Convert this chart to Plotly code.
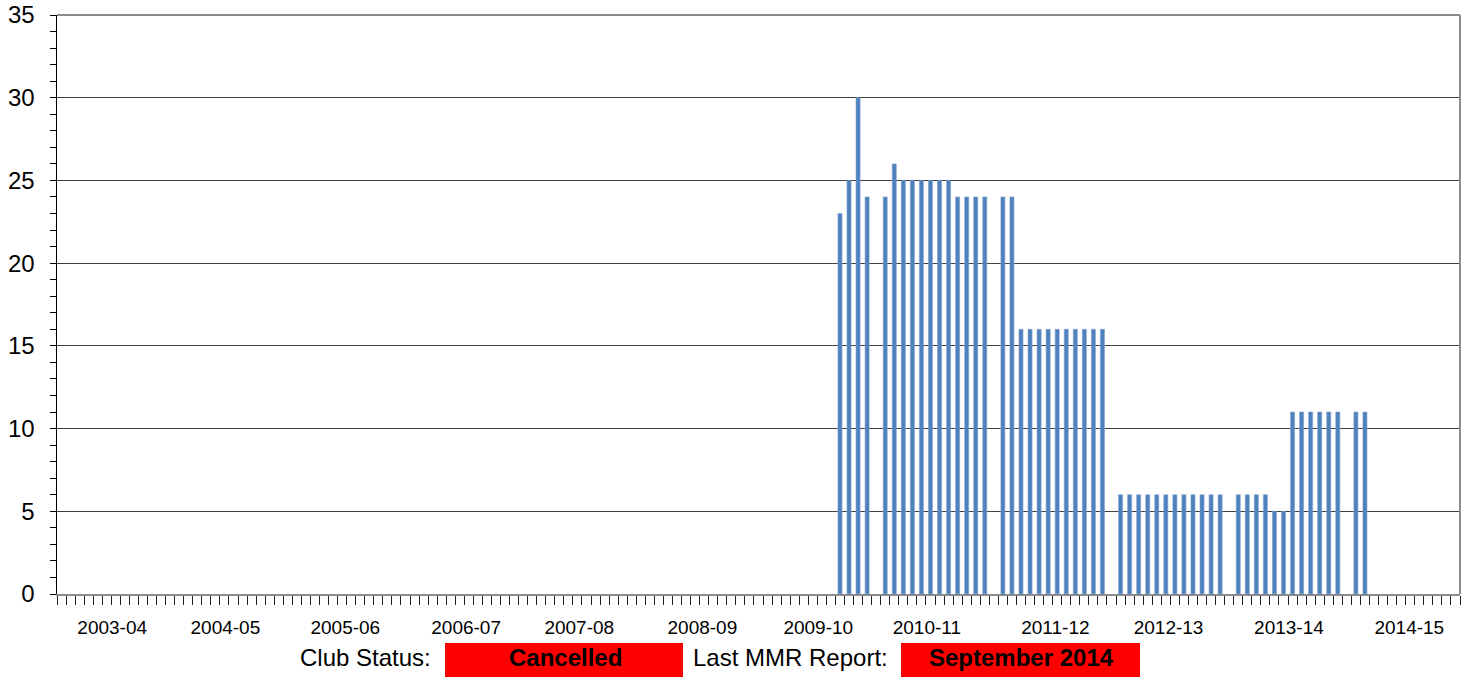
import plotly.graph_objects as go

# ---- data ----
month_index = list(range(155))
members = ([None] * 86 +
           [23, 25, 30, 24, None, 24, 26, 25, 25, 25, 25, 25, 25,
            24, 24, 24, 24, None, 24, 24,
            16, 16, 16, 16, 16, 16, 16, 16, 16, 16, None,
            6, 6, 6, 6, 6, 6, 6, 6, 6, 6, 6, 6, None,
            6, 6, 6, 6, 5, 5, 11, 11, 11, 11, 11, 11, None, 11, 11] +
           [None] * 10)
year_labels = ["2003-04", "2004-05", "2005-06", "2006-07", "2007-08", "2008-09",
               "2009-10", "2010-11", "2011-12", "2012-13", "2013-14", "2014-15"]
club_status = "Cancelled"
last_report = "September 2014"

# layout-only label positions (category units)
label_pos = [5.6, 18.1, 31.35, 44.7, 57.2, 70.8, 83.6, 95.6, 109.8, 122.3, 135.6, 148.9]

N = len(month_index)
xr = [-0.5, N - 0.5]
FONT = "Liberation Sans, Arial, sans-serif"

fig = go.Figure()
fig.add_trace(go.Bar(x=month_index, y=members, width=0.45,
                     marker=dict(color="#4f81bd", line=dict(color="#7ea3d3", width=0.6)),
                     showlegend=False, hoverinfo="skip"))
# invisible trace for label axis
fig.add_trace(go.Scatter(x=[xr[0]], y=[0], xaxis="x2", mode="markers",
                         marker=dict(opacity=0), showlegend=False, hoverinfo="skip"))

fig.update_layout(
    width=1468, height=677,
    margin=dict(l=57, r=8, t=15, b=83, autoexpand=False),
    paper_bgcolor="white", plot_bgcolor="white",
    font=dict(family=FONT, color="black"),
    bargap=0,
    xaxis=dict(range=xr, tick0=-0.5, dtick=1, ticks="outside", ticklen=9,
               tickcolor="#222222", tickwidth=1, showticklabels=False,
               showgrid=False, zeroline=False, showline=True, automargin=False,
               linecolor="#8c8c8c", linewidth=2),
    xaxis2=dict(range=xr, overlaying="x", side="bottom", tickmode="array",
                tickvals=label_pos, ticktext=year_labels, ticks="", showgrid=False,
                zeroline=False, showline=False, automargin=False,
                ticklabeloverflow="allow",
                tickfont=dict(size=19, family=FONT), ticklabelstandoff=20),
    yaxis=dict(range=[0, 35], dtick=5, tick0=0, ticks="outside", ticklen=6,
               tickcolor="black", tickfont=dict(size=24, family=FONT),
               showgrid=True, gridcolor="#404040", gridwidth=1, automargin=False,
               showline=True, linecolor="black", linewidth=1.5, zeroline=False,
               ticklabelstandoff=10, ticklabeloverflow="allow",
               minor=dict(dtick=1, ticks="outside", ticklen=6, tickcolor="black",
                          showgrid=False)),
    yaxis2=dict(range=[0, 35], overlaying="y", side="left", dtick=5, ticks="inside",
                ticklen=6, tickcolor="black", showticklabels=False, showgrid=False,
                zeroline=False, showline=False, automargin=False,
                minor=dict(dtick=1, ticks="inside", ticklen=6, tickcolor="black")),
)

# plot-area border (top and right in gray)
fig.add_shape(type="line", xref="paper", yref="paper", x0=0, x1=1, y0=1, y1=1,
              line=dict(color="#8c8c8c", width=2))
fig.add_shape(type="line", xref="paper", yref="paper", x0=1, x1=1, y0=0, y1=1,
              line=dict(color="#8c8c8c", width=2))

# status boxes (positions relative to plot area in screen pixels)
W = 1403.0
H = 579.0
def px(x):
    return (x - 57) / W
def py(y):
    return (594 - y) / H

fig.add_shape(type="rect", xref="paper", yref="paper", x0=px(445), x1=px(683),
              y0=py(690), y1=py(643), fillcolor="#ff0000", line=dict(width=0))
fig.add_shape(type="rect", xref="paper", yref="paper", x0=px(901), x1=px(1140),
              y0=py(690), y1=py(643), fillcolor="#ff0000", line=dict(width=0))

fig.add_annotation(xref="paper", yref="paper", x=px(433), y=py(657), text="Club Status:",
                   showarrow=False, xanchor="right", yanchor="middle",
                   font=dict(size=24, family=FONT, color="black"))
fig.add_annotation(xref="paper", yref="paper", x=px(565), y=py(657), text="<b>" + club_status + "</b>",
                   showarrow=False, xanchor="center", yanchor="middle",
                   font=dict(size=24, family=FONT, color="black"))
fig.add_annotation(xref="paper", yref="paper", x=px(691), y=py(657), text="Last MMR Report:",
                   showarrow=False, xanchor="left", yanchor="middle",
                   font=dict(size=24, family=FONT, color="black"))
fig.add_annotation(xref="paper", yref="paper", x=px(1021), y=py(657), text="<b>" + last_report + "</b>",
                   showarrow=False, xanchor="center", yanchor="middle",
                   font=dict(size=24, family=FONT, color="black"))

fig.write_html("out.html", config={"displayModeBar": False, "staticPlot": True},
               post_script="document.body.style.margin='0px';document.body.style.overflow='hidden';")
